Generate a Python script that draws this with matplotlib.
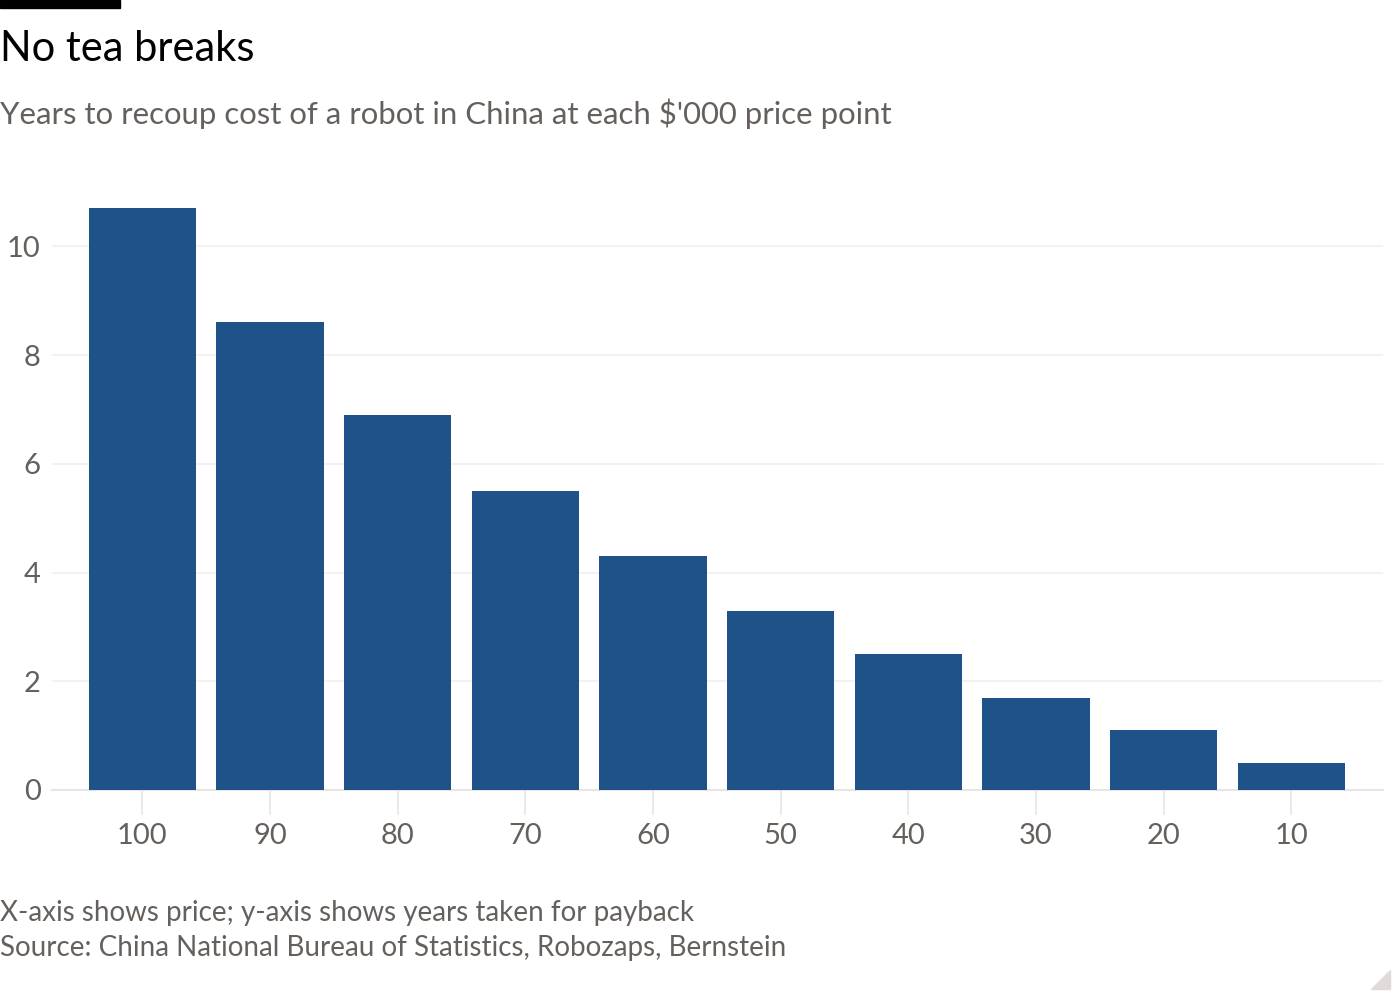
import matplotlib
matplotlib.use("Agg")
import matplotlib.pyplot as plt
from matplotlib.patches import Rectangle, Polygon

# Price points ($'000) and years to payback
prices = ["100", "90", "80", "70", "60", "50", "40", "30", "20", "10"]
years = [10.7, 8.6, 6.9, 5.5, 4.3, 3.3, 2.5, 1.7, 1.1, 0.5]
y_ticks = [0, 2, 4, 6, 8, 10]

BAR_COLOR = "#1f5289"
TEXT_GREY = "#66605c"
GRID_GREY = "#f2f0ee"

plt.rcParams["font.family"] = ["Lato", "DejaVu Sans"]

fig = plt.figure(figsize=(14, 10), dpi=100)
ax = fig.add_axes([0.037, 0.21, 0.951, 0.598])

x = range(len(prices))
ax.bar(x, years, width=0.84, color=BAR_COLOR, zorder=3)

ax.set_xlim(-0.71, len(prices) - 1 + 0.72)
ax.set_ylim(0, 11)
ax.set_yticks(y_ticks)
ax.set_xticks(list(x))
ax.set_xticklabels(prices)

ax.grid(axis="y", color=GRID_GREY, linewidth=1.2, zorder=0)
for s in ["top", "right", "left"]:
    ax.spines[s].set_visible(False)
ax.spines["bottom"].set_color("#e8e6e4")
ax.spines["bottom"].set_linewidth(1.5)

ax.tick_params(axis="y", length=0, pad=8, labelsize=21, labelcolor=TEXT_GREY)
ax.tick_params(axis="x", length=18, width=1.2, color="#e8e6e4", pad=6,
               labelsize=21, labelcolor=TEXT_GREY)

# header
fig.add_artist(Rectangle((0, 0.992), 120 / 1400, 0.008, transform=fig.transFigure,
                         color="black"))
fig.text(0.0, 0.951, "No tea breaks", fontsize=30, color="black", va="center")
fig.text(0.0, 0.886, "Years to recoup cost of a robot in China at each $'000 price point",
         fontsize=22.4, color=TEXT_GREY, va="center")

# footer
fig.text(0.0, 0.087, "X-axis shows price; y-axis shows years taken for payback",
         fontsize=20, color=TEXT_GREY, va="center")
fig.text(0.0, 0.052, "Source: China National Bureau of Statistics, Robozaps, Bernstein",
         fontsize=20, color=TEXT_GREY, va="center")

fig.add_artist(Polygon([[1371 / 1400, 0.011], [1390 / 1400, 0.011], [1390 / 1400, 0.03]],
                       closed=True, transform=fig.transFigure, color="#e0dbd7"))

fig.savefig("out.png", dpi=100, facecolor="white")
